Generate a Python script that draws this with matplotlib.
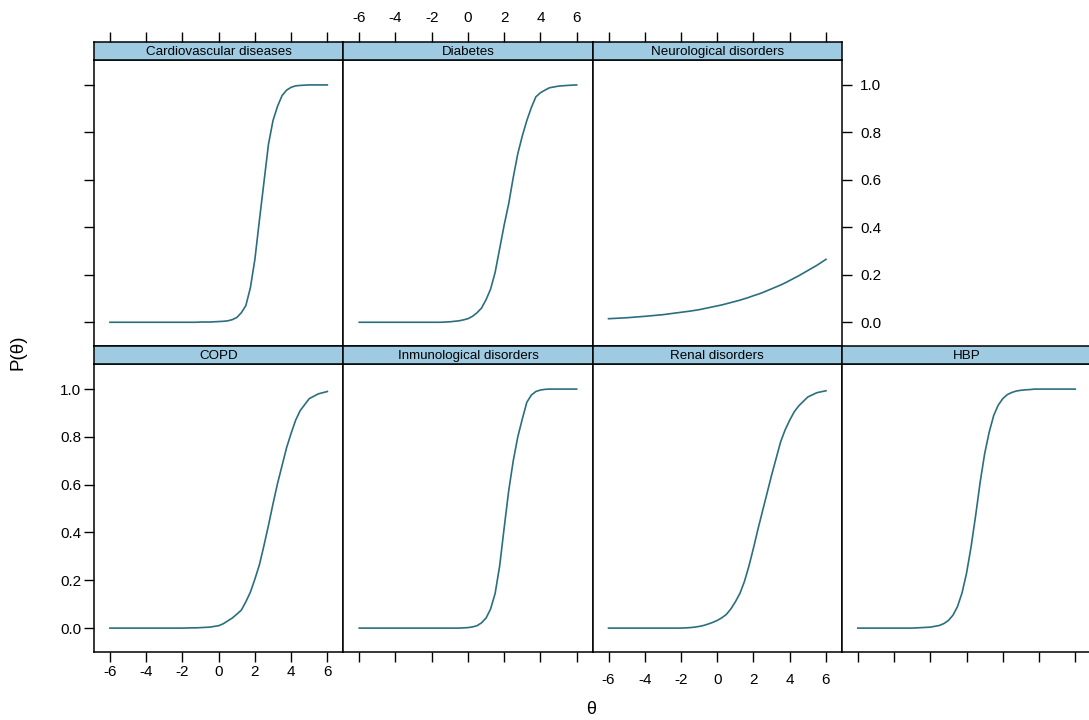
import matplotlib
matplotlib.use("Agg")
import matplotlib.pyplot as plt

plt.rcParams['font.family'] = ['Liberation Sans', 'DejaVu Sans']
plt.rcParams['axes.unicode_minus'] = False

W, H = 1089, 720

# theta grid and item characteristic curves
theta = [-6, -5, -4, -3, -2, -1.5, -1.25, -1, -0.75, -0.5, -0.25, 0, 0.25, 0.5, 0.75, 1,
         1.25, 1.5, 1.75, 2, 2.25, 2.5, 2.75, 3, 3.25, 3.5, 3.75, 4, 4.25, 4.5, 5, 5.5, 6]

cardio = [0, 0, 0, 0, 0, 0, 0, 0.001, 0.001, 0.001, 0.002, 0.003, 0.004, 0.006, 0.011, 0.02,
          0.04, 0.07, 0.145, 0.265, 0.43, 0.59, 0.75, 0.85, 0.91, 0.955, 0.978, 0.99, 0.996, 0.998, 1, 1, 1]
diabetes = [0, 0, 0, 0, 0, 0, 0.001, 0.002, 0.004, 0.006, 0.01, 0.015, 0.025, 0.04, 0.06, 0.095,
            0.14, 0.21, 0.31, 0.41, 0.5, 0.61, 0.71, 0.785, 0.85, 0.905, 0.95, 0.967, 0.978, 0.988, 0.995, 0.998, 1.0]
neuro = [0.015, 0.019, 0.025, 0.032, 0.042, 0.047, 0.05, 0.053, 0.057, 0.061, 0.065, 0.069, 0.073, 0.078, 0.083, 0.088,
         0.093, 0.099, 0.105, 0.112, 0.118, 0.125, 0.133, 0.141, 0.149, 0.157, 0.166, 0.176, 0.186, 0.196, 0.218, 0.24, 0.265]
copd = [0, 0, 0, 0, 0, 0.001, 0.001, 0.002, 0.003, 0.004, 0.007, 0.01, 0.018, 0.03, 0.042, 0.058,
        0.075, 0.11, 0.15, 0.205, 0.265, 0.345, 0.43, 0.52, 0.605, 0.68, 0.755, 0.815, 0.87, 0.91, 0.96, 0.98, 0.99]
immuno = [0, 0, 0, 0, 0, 0, 0, 0, 0, 0, 0.001, 0.002, 0.005, 0.01, 0.022, 0.042,
          0.08, 0.145, 0.26, 0.42, 0.575, 0.7, 0.8, 0.875, 0.945, 0.975, 0.99, 0.996, 0.999, 1, 1, 1, 1]
renal = [0, 0, 0, 0, 0, 0.002, 0.004, 0.007, 0.011, 0.017, 0.024, 0.032, 0.043, 0.057, 0.08, 0.11,
         0.145, 0.195, 0.26, 0.335, 0.415, 0.49, 0.565, 0.64, 0.71, 0.78, 0.83, 0.87, 0.905, 0.93, 0.967, 0.985, 0.993]
hbp = [0, 0, 0, 0, 0.004, 0.011, 0.019, 0.032, 0.054, 0.09, 0.147, 0.23, 0.34, 0.47, 0.61, 0.73,
       0.82, 0.89, 0.933, 0.96, 0.977, 0.986, 0.992, 0.995, 0.997, 0.998, 1, 1, 1, 1, 1, 1, 1]

names = ["Cardiovascular diseases", "Diabetes", "Neurological disorders",
         "COPD", "Inmunological disorders", "Renal disorders", "HBP"]
curves = [cardio, diabetes, neuro, copd, immuno, renal, hbp]
cells = [(0, 0), (0, 1), (0, 2), (1, 0), (1, 1), (1, 2), (1, 3)]

xticks = [-6, -4, -2, 0, 2, 4, 6]
yticks = [0.0, 0.2, 0.4, 0.6, 0.8, 1.0]

panel_w = 249.3
col_left = [94 + i * panel_w for i in range(4)]
strip_top = [42, 346]
strip_h = 18
panel_h = [286, 288]

line_col = '#2b6e7e'
strip_col = '#9fcbe2'
tick_len = 7.2
fs = 11


def box(x, y, w, h):
    return [x / W, 1 - (y + h) / H, w / W, h / H]


def style(ax):
    for s in ax.spines.values():
        s.set_linewidth(1.1)
    ax.tick_params(which='both', direction='out', length=tick_len, width=1.0,
                   labelsize=fs, top=False, bottom=False, left=False, right=False,
                   labeltop=False, labelbottom=False, labelleft=False, labelright=False)


fig = plt.figure(figsize=(W / 100, H / 100), dpi=100)

for name, p, (r, c) in zip(names, curves, cells):
    x0 = col_left[c]
    sy = strip_top[r]
    ax = fig.add_axes(box(x0, sy + strip_h, panel_w, panel_h[r]))
    st = fig.add_axes(box(x0, sy, panel_w, strip_h))

    ax.plot(theta, p, color=line_col, lw=1.2)
    ax.set_xlim(-6.88, 6.88)
    ax.set_ylim(-0.1, 1.105)
    ax.set_xticks(xticks)
    ax.set_yticks(yticks)
    ax.set_yticklabels(["%.1f" % v for v in yticks])
    style(ax)

    st.set_facecolor(strip_col)
    st.set_xlim(-6.88, 6.88)
    st.set_ylim(0, 1)
    st.set_xticks(xticks)
    st.set_yticks([])
    style(st)
    st.text(0.5, 0.45, name, transform=st.transAxes, ha='center', va='center', fontsize=9.6)

    # lattice style alternating axes
    if r == 0:
        st.tick_params(top=True, labeltop=(c == 1), pad=5)
        if c == 0:
            ax.tick_params(left=True)
        if c == 2:
            ax.tick_params(right=True, labelright=True, pad=6)
    else:
        ax.tick_params(bottom=True, labelbottom=(c in (0, 2)), pad=8)
        if c == 0:
            ax.tick_params(left=True, labelleft=True, pad=2)

fig.text(18 / W, 1 - 352 / H, "P(θ)", rotation=90, ha='center', va='center', fontsize=13.5)
fig.text(591 / W, 1 - 710 / H, "θ", ha='center', va='center', fontsize=13)

fig.savefig("out.png", dpi=100, facecolor='white')
